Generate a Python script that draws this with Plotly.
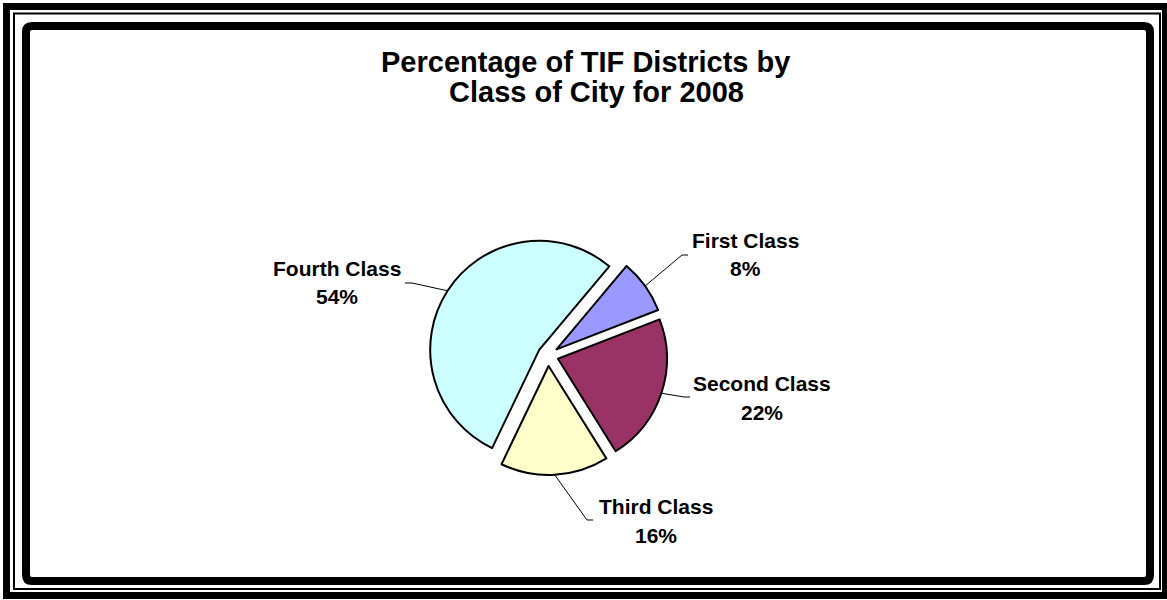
import math
import plotly.graph_objects as go

# ---------------- data ----------------
categories = ["First Class", "Second Class", "Third Class", "Fourth Class"]
values = [8, 22, 16, 54]
colors = ["#9999FF", "#993366", "#FFFFCC", "#CCFFFF"]
title_lines = ["Percentage of TIF Districts by", "Class of City for 2008"]

# ---------------- layout constants (pixels) ----------------
W, H = 1167, 600
PIE_CX, PIE_CY = 548.0, 355.5
PIE_R = 109.0
PULL = 0.096
ROTATION = 40
FONT = "Liberation Sans, Arial, sans-serif"

# label placement: name centre, percent centre, leader elbow + end
label_layout = {
    "First Class": dict(name=(746, 241), pct=(746, 269), leader=[(682, 255), (688, 255)]),
    "Second Class": dict(name=(762, 383), pct=(762, 412), leader=[(684, 397), (690, 397)]),
    "Third Class": dict(name=(656, 506), pct=(656, 535), leader=[(587, 520), (593, 520)]),
    "Fourth Class": dict(name=(337, 269), pct=(337, 296), leader=[(412, 283), (405, 283)]),
}


def px(x):
    return x / W


def py(y):
    return 1 - y / H


half = PIE_R * (1 + PULL)
domain_x = [px(PIE_CX - half), px(PIE_CX + half)]
domain_y = [py(PIE_CY + half), py(PIE_CY - half)]

fig = go.Figure()
fig.add_trace(go.Pie(
    labels=categories,
    values=values,
    sort=False,
    direction="clockwise",
    rotation=ROTATION,
    pull=[PULL] * len(values),
    marker=dict(colors=colors, line=dict(color="black", width=2)),
    textinfo="none",
    hoverinfo="label+percent",
    showlegend=False,
    domain=dict(x=domain_x, y=domain_y),
))

shapes = []
annotations = []

# leader lines + labels, start point computed from slice geometry
total = float(sum(values))
cum = 0.0
for cat, v in zip(categories, values):
    a0 = ROTATION + 360 * cum / total
    cum += v
    a1 = ROTATION + 360 * cum / total
    mid = math.radians((a0 + a1) / 2)
    dx, dy = math.sin(mid), -math.cos(mid)
    cx = PIE_CX + PULL * PIE_R * dx
    cy = PIE_CY + PULL * PIE_R * dy
    sx, sy = cx + PIE_R * dx, cy + PIE_R * dy
    lay = label_layout[cat]
    pts = [(sx, sy)] + lay["leader"]
    path = "M " + " L ".join(f"{px(x):.5f},{py(y):.5f}" for x, y in pts)
    shapes.append(dict(type="path", xref="paper", yref="paper", path=path,
                       line=dict(color="black", width=1)))
    pct = f"{round(100 * v / total)}%"
    for txt, pos in ((cat, lay["name"]), (pct, lay["pct"])):
        annotations.append(dict(
            text=f"<b>{txt}</b>", x=px(pos[0]), y=py(pos[1]), xref="paper", yref="paper",
            xanchor="center", yanchor="middle", showarrow=False,
            font=dict(family=FONT, size=21, color="black"),
        ))

# title
for txt, (x, y) in zip(title_lines, [(585, 62), (596, 92)]):
    annotations.append(dict(
        text=f"<b>{txt}</b>", x=px(x), y=py(y), xref="paper", yref="paper",
        xanchor="center", yanchor="middle", showarrow=False,
        font=dict(family=FONT, size=29, color="black"),
    ))

# frames
def rect(x0, y0, x1, y1, width, color="black"):
    return dict(type="rect", xref="paper", yref="paper",
                x0=px(x0), x1=px(x1), y0=py(y0), y1=py(y1),
                line=dict(color=color, width=width), fillcolor="rgba(0,0,0,0)")


def rounded(x0, y0, x1, y1, r, width, color="black"):
    p = [
        f"M {px(x0 + r)},{py(y0)}",
        f"L {px(x1 - r)},{py(y0)}",
        f"Q {px(x1)},{py(y0)} {px(x1)},{py(y0 + r)}",
        f"L {px(x1)},{py(y1 - r)}",
        f"Q {px(x1)},{py(y1)} {px(x1 - r)},{py(y1)}",
        f"L {px(x0 + r)},{py(y1)}",
        f"Q {px(x0)},{py(y1)} {px(x0)},{py(y1 - r)}",
        f"L {px(x0)},{py(y0 + r)}",
        f"Q {px(x0)},{py(y0)} {px(x0 + r)},{py(y0)} Z",
    ]
    return dict(type="path", xref="paper", yref="paper", path=" ".join(p),
                line=dict(color=color, width=width))


shapes.append(rect(6.5, 6.5, 1165.5, 595.5, 7))
shapes.append(rect(14, 13.5, 1160, 589, 2))
shapes.append(rounded(27, 27, 1151, 582, 6, 2, color="#A0A0A0"))
shapes.append(rounded(26, 26, 1150, 581, 6, 8))

fig.update_layout(
    width=W, height=H,
    margin=dict(l=0, r=0, t=0, b=0),
    paper_bgcolor="white",
    plot_bgcolor="white",
    shapes=shapes,
    annotations=annotations,
    showlegend=False,
)

fig.write_html(
    "out.html",
    config={"displayModeBar": False},
    post_script="document.body.style.margin='0px';document.body.style.overflow='hidden';",
)
